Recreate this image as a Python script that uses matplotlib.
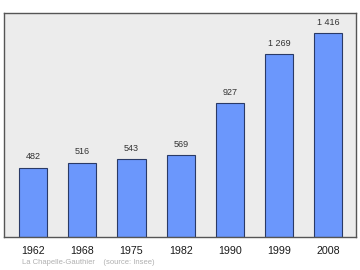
import matplotlib
matplotlib.use("Agg")
import matplotlib.pyplot as plt

plt.rcParams["font.family"] = ["Liberation Sans", "DejaVu Sans"]

years = ["1962", "1968", "1975", "1982", "1990", "1999", "2008"]
population = [482, 516, 543, 569, 927, 1269, 1416]
value_labels = ["482", "516", "543", "569", "927", "1 269", "1 416"]
source_text = "La Chapelle-Gauthier    (source: Insee)"

fig = plt.figure(figsize=(3.6, 2.7), dpi=100)
ax = fig.add_axes([4/360, 1-237/270, 352/360, 224/270])
ax.set_facecolor("#ececec")

x = list(range(len(years)))
ax.bar(x, population, width=0.57, color="#6b97fc", edgecolor="#2a3a66", linewidth=0.8, zorder=2)

for xi, v, lab in zip(x, population, value_labels):
    ax.annotate(lab, (xi, v), xytext=(0, 4.5), textcoords="offset points",
                ha="center", va="bottom", fontsize=6.5, color="#333333")

ax.set_xlim(-0.59, 6.56)
ax.set_ylim(0, 1555)
ax.set_yticks([])
ax.set_xticks(x)
ax.set_xticklabels(years, fontsize=7.7, color="#1a1a1a")
ax.tick_params(axis="x", length=0, pad=6.5)
for s in ax.spines.values():
    s.set_color("#555555")
    s.set_linewidth(1.0)

fig.text(22/360, 1-262/270, source_text, fontsize=5.5, color="#b0b0b0", va="center", ha="left")

fig.savefig("out.png", dpi=100, facecolor="white")
